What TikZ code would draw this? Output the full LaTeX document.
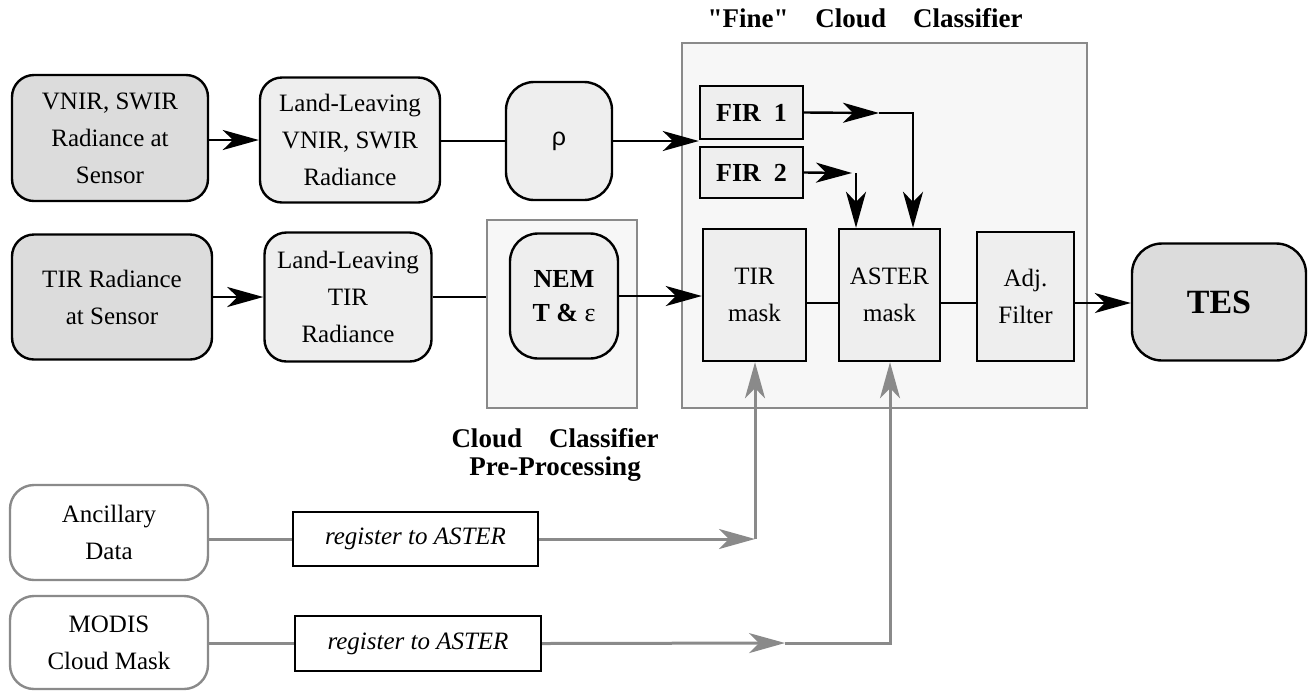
\documentclass[tikz,border=0pt]{standalone}
\usepackage{fontspec}
\setmainfont{Liberation Serif}
\newfontfamily\tserif{Liberation Serif}
\newfontfamily\sansgr{Liberation Sans}
\usetikzlibrary{arrows.meta}
\definecolor{darkbox}{HTML}{DCDCDC}
\definecolor{lightbox}{HTML}{EEEEEE}
\definecolor{panel}{HTML}{F7F7F7}
\definecolor{panelline}{HTML}{8A8A8A}
\definecolor{garrow}{HTML}{8A8A8A}
\tikzset{
  txt/.style={font=\tserif\fontsize{12.5}{18.5}\selectfont, align=center},
  base/.style={txt, draw=black, line width=1.2pt, inner sep=0pt},
  rbox/.style={base, rounded corners=11pt},
  dbox/.style={rbox, fill=darkbox},
  lbox/.style={rbox, fill=lightbox},
  sbox/.style={base, fill=lightbox},
  wbox/.style={txt, draw=panelline, line width=1.2pt, rounded corners=12pt, fill=white, inner sep=0pt},
  regbox/.style={base, fill=white, font=\tserif\fontsize{12.5}{15}\selectfont\itshape},
  panelbox/.style={draw=panelline, line width=1.1pt, fill=panel, inner sep=0pt},
  tip/.style={-{Stealth[length=18pt,width=10pt,inset=5pt]}},
  con/.style={line width=1.2pt, black},
  arr/.style={con, tip},
  gcon/.style={line width=1.5pt, garrow},
  garr/.style={gcon, tip},
  title/.style={font=\tserif\fontsize{13.5}{16}\selectfont\bfseries, align=center},
}
\begin{document}
\begin{tikzpicture}[x=0.5pt,y=-0.5pt]
\useasboundingbox (0,0) rectangle (1310,692);

% panels
\node[panelbox, minimum width=202.5pt, minimum height=182.5pt] (fine) at (884.5,225.5) {};
\node[panelbox, minimum width=75pt, minimum height=94pt] (pre) at (562,314) {};

% row 1
\node[dbox, minimum width=98pt, minimum height=63pt] (vnir) at (110,138) {VNIR, SWIR\\Radiance at\\Sensor};
\node[lbox, minimum width=90pt, minimum height=62.5pt] (llv) at (350,140) {Land-Leaving\\VNIR, SWIR\\Radiance};
\node[lbox, rounded corners=14pt, minimum width=53pt, minimum height=59pt] (rho) at (559,141) {\sansgr ρ};

% row 2
\node[dbox, minimum width=100pt, minimum height=62.5pt] (tir) at (112,297) {TIR Radiance\\at Sensor};
\node[lbox, minimum width=83.5pt, minimum height=64.5pt] (llt) at (348,297) {Land-Leaving\\TIR\\Radiance};
\node[lbox, rounded corners=14pt, minimum width=54pt, minimum height=62.5pt, font=\tserif\fontsize{13}{17}\selectfont\bfseries] (nem) at (564,296) {NEM\\T \&\ {\mdseries ε}};

% fine classifier content
\node[sbox, minimum width=51.5pt, minimum height=26.5pt, font=\tserif\fontsize{13}{15}\selectfont\bfseries] (fir1) at (751.5,112.5) {FIR~~1};
\node[sbox, minimum width=51.5pt, minimum height=25.5pt, font=\tserif\fontsize{13}{15}\selectfont\bfseries] (fir2) at (751.5,172.5) {FIR~~2};
\node[sbox, minimum width=51.5pt, minimum height=66pt] (tirm) at (754.5,295) {TIR\\mask};
\node[sbox, minimum width=50.5pt, minimum height=66pt] (asterm) at (889.5,295) {ASTER\\mask};
\node[sbox, minimum width=48.5pt, minimum height=64.5pt] (adj) at (1025.5,296.5) {Adj.\\Filter};
\node[dbox, rounded corners=15pt, minimum width=87pt, minimum height=58.5pt, font=\tserif\fontsize{17}{18}\selectfont\bfseries] (tes) at (1219,302) {TES};

% bottom
\node[wbox, minimum width=99pt, minimum height=47.5pt] (anc) at (109,532.5) {Ancillary\\Data};
\node[regbox, minimum width=122.5pt, minimum height=27pt] (reg1) at (415.5,539) {register to ASTER};
\node[wbox, minimum width=99pt, minimum height=46.5pt] (modis) at (109,642.5) {MODIS\\Cloud Mask};
\node[regbox, minimum width=123pt, minimum height=27.5pt] (reg2) at (418,643.5) {register to ASTER};

% titles
\node[title] (tfine) at (865,18) {"Fine"\hspace{1em}Cloud\hspace{1em}Classifier};
\node[title, font=\tserif\fontsize{13.5}{14}\selectfont\bfseries] (tpre) at (555,455) {Cloud\hspace{1em}Classifier\\Pre-Processing};

% coordinates
\coordinate (l3) at (0,303);
\coordinate (f1tip) at (879,113);
\coordinate (f1c) at (913,113);
\coordinate (f2tip) at (852,173);
\coordinate (f2c) at (856,173);
\coordinate (j1) at (755,539);
\coordinate (g2tip) at (785,643);
\coordinate (j2) at (890,643);

% row 1 connectors
\draw[arr] (vnir.east |- llv.west) -- (llv.west);
\draw[con] (llv.east |- rho.west) -- (rho.west);
\draw[arr] (rho.east) -- (rho.east -| fir1.west);

% row 2 connectors
\draw[arr] (tir.east |- llt.west) -- (llt.west);
\draw[con] (llt.east) -- (llt.east -| pre.west);
\draw[arr] (nem.east) -- (nem.east -| tirm.west);

% fine connectors
\draw[con] (tirm.east |- l3) -- (asterm.west |- l3);
\draw[con] (asterm.east |- l3) -- (adj.west |- l3);
\draw[arr] (adj.east |- l3) -- (tes.west |- l3);

\draw[arr] (fir1.east) -- (f1tip);
\draw[arr] (f1tip) -- (f1c) -- (f1c |- asterm.north);
\draw[arr] (fir2.east) -- (f2tip);
\draw[arr] (f2c) -- (f2c |- asterm.north);

% gray connectors
\draw[gcon] (anc.east |- reg1.west) -- (reg1.west);
\draw[garr] (reg1.east) -- (j1);
\draw[garr] (j1) -- (j1 |- tirm.south);
\draw[gcon] (modis.east |- reg2.west) -- (reg2.west);
\draw[garr] (reg2.east) -- (g2tip);
\draw[garr] (g2tip) -- (j2) -- (j2 |- asterm.south);
\end{tikzpicture}
\end{document}
